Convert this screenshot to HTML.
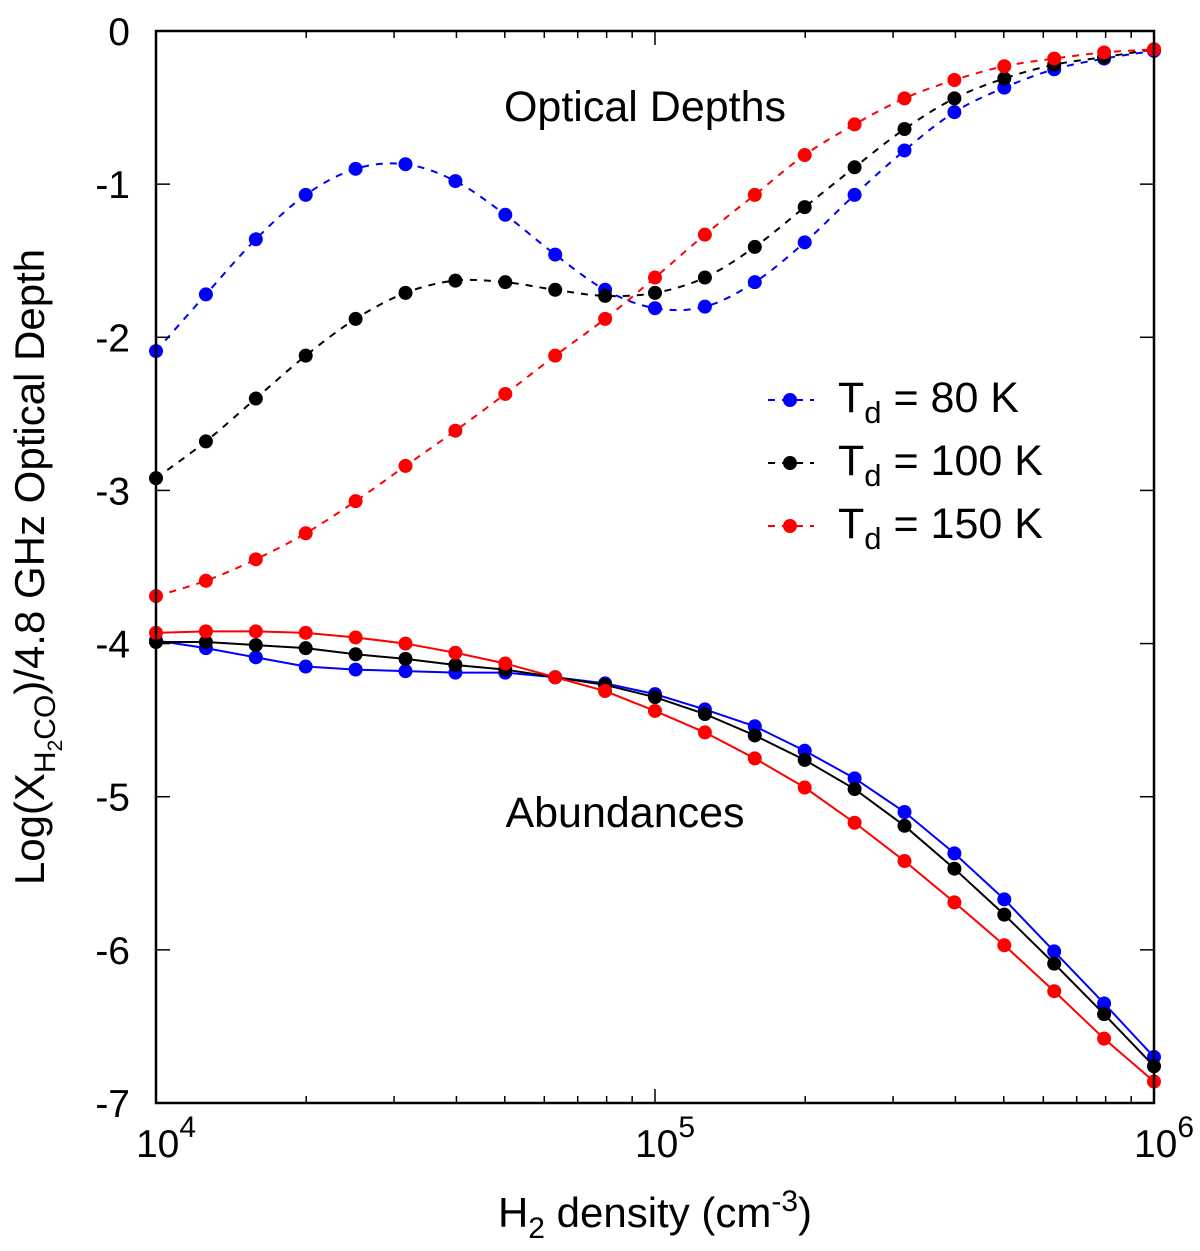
<!DOCTYPE html>
<html><head><meta charset="utf-8"><style>
html,body{margin:0;padding:0;background:#fff;}
svg{display:block;font-family:"Liberation Sans",sans-serif;}
</style></head><body>
<svg id="chart" width="1200" height="1251" viewBox="0 0 1200 1251" xmlns="http://www.w3.org/2000/svg">
<g id="marks"></g>
<rect x="156" y="31" width="998" height="1072" fill="none" stroke="#000" stroke-width="2.5"/>
<g id="ticks" stroke="#000" stroke-width="1.5"></g>
<g id="labels" font-size="39" fill="#000"></g>
<text x="645" y="121" font-size="43" text-anchor="middle">Optical Depths</text>
<text x="625" y="827" font-size="43" text-anchor="middle">Abundances</text>
<text x="655" y="1227" font-size="42" text-anchor="middle">H<tspan font-size="30" dy="11">2</tspan><tspan dy="-11"> density (cm</tspan><tspan font-size="30" dy="-16">-3</tspan><tspan dy="16">)</tspan></text>
<text transform="translate(44,567) rotate(-90)" font-size="42" text-anchor="middle">Log(X<tspan font-size="30" dy="11">H</tspan><tspan font-size="21" dy="7">2</tspan><tspan font-size="30" dy="-7">CO</tspan><tspan dy="-11">)/4.8 GHz Optical Depth</tspan></text>
<g id="legend" font-size="43"></g>
</svg>
<script>
const logN = [4,4.1,4.2,4.3,4.4,4.5,4.6,4.7,4.8,4.9,5,5.1,5.2,5.3,5.4,5.5,5.6,5.7,5.8,5.9,6];
const tau80 = [-2.09,-1.72,-1.36,-1.07,-0.90,-0.87,-0.98,-1.20,-1.46,-1.69,-1.81,-1.80,-1.64,-1.38,-1.07,-0.78,-0.53,-0.37,-0.25,-0.18,-0.13];
const tau100 = [-2.92,-2.68,-2.40,-2.12,-1.88,-1.71,-1.63,-1.64,-1.69,-1.73,-1.71,-1.61,-1.41,-1.15,-0.89,-0.64,-0.44,-0.31,-0.22,-0.17,-0.12];
const tau150 = [-3.69,-3.59,-3.45,-3.28,-3.07,-2.84,-2.61,-2.37,-2.12,-1.88,-1.61,-1.33,-1.07,-0.81,-0.61,-0.44,-0.32,-0.23,-0.18,-0.14,-0.12];
const abun80 = [-3.98,-4.03,-4.09,-4.15,-4.17,-4.18,-4.19,-4.19,-4.22,-4.26,-4.33,-4.43,-4.54,-4.70,-4.88,-5.10,-5.37,-5.67,-6.01,-6.35,-6.70];
const abun100 = [-3.99,-3.99,-4.01,-4.03,-4.07,-4.10,-4.14,-4.17,-4.22,-4.27,-4.35,-4.46,-4.60,-4.76,-4.95,-5.19,-5.47,-5.77,-6.09,-6.42,-6.76];
const abun150 = [-3.93,-3.92,-3.92,-3.93,-3.96,-4.00,-4.06,-4.13,-4.22,-4.31,-4.44,-4.58,-4.75,-4.94,-5.17,-5.42,-5.69,-5.97,-6.27,-6.58,-6.86];
const yTicks = [0,-1,-2,-3,-4,-5,-6,-7];
const xTickExps = [4,5,6];
const legendLabels = ["80 K","100 K","150 K"];

const NS="http://www.w3.org/2000/svg";
const X0=156,X1=1154,Y0=31,Y1=1103;
function xs(l){return X0+(l-4)/2*(X1-X0);}
function ys(v){return Y0+(0-v)/7*(Y1-Y0);}
function mk(t,a,p){const e=document.createElementNS(NS,t);for(const k in a)e.setAttribute(k,a[k]);p.appendChild(e);return e;}
const marks=document.getElementById('marks');
function smoothPath(xsA,ysA){
  let d="M"+xsA[0]+","+ysA[0];
  for(let i=0;i<xsA.length-1;i++){
    const p0x=xsA[Math.max(i-1,0)],p0y=ysA[Math.max(i-1,0)];
    const p1x=xsA[i],p1y=ysA[i],p2x=xsA[i+1],p2y=ysA[i+1];
    const p3x=xsA[Math.min(i+2,xsA.length-1)],p3y=ysA[Math.min(i+2,xsA.length-1)];
    d+=" C"+(p1x+(p2x-p0x)/6)+","+(p1y+(p2y-p0y)/6)+" "+(p2x-(p3x-p1x)/6)+","+(p2y-(p3y-p1y)/6)+" "+p2x+","+p2y;
  }
  return d;
}
function series(vals,color,dashed,name){
  const g=mk('g',{},marks);
  
  
  const px=logN.map(xs),py=vals.map(ys);
  const p=mk('path',{d:dashed?smoothPath(px,py):"M"+px.map((x,i)=>x+","+py[i]).join(" L"),fill:"none",stroke:color,"stroke-width":2,"stroke-dasharray":dashed?"7,7":"none"},g);
  
  
  px.forEach((x,i)=>{
    const c=mk('circle',{cx:x,cy:py[i],r:7,fill:color},g);
    
    
  });
}
series(tau80,"#0000ff",true,"tau-80k");
series(tau100,"#000",true,"tau-100k");
series(tau150,"#ff0000",true,"tau-150k");
series(abun80,"#0000ff",false,"abundance-80k");
series(abun100,"#000",false,"abundance-100k");
series(abun150,"#ff0000",false,"abundance-150k");

const ticks=document.getElementById('ticks'),labels=document.getElementById('labels');
yTicks.forEach(v=>{
  const y=ys(v);
  const t1=mk('line',{x1:X0,x2:X0+14,y1:y,y2:y},ticks);
  
  
  const t2=mk('line',{x1:X1,x2:X1-14,y1:y,y2:y},ticks);
  
  
  const t=mk('text',{x:130,y:y+14,"text-anchor":"end"},labels);
  t.textContent=String(v);
  
  
});
for(let d=4;d<6;d++){
  for(let m=1;m<10;m++){
    const x=xs(d+Math.log10(m));
    const len=m===1?14:7;
    const a=mk('line',{x1:x,x2:x,y1:Y1,y2:Y1-len},ticks);
    
    
    const b=mk('line',{x1:x,x2:x,y1:Y0,y2:Y0+len},ticks);
    
    
  }
}
xTickExps.forEach(e=>{
  const t=mk('text',{x:xs(e)+10,y:1157,"text-anchor":"middle"},labels);
  
  
  t.textContent="10";
  const s=mk('tspan',{"font-size":30,dy:-20},t);
  s.textContent=String(e);
});
const legend=document.getElementById('legend');
const lcol=["#0000ff","#000","#ff0000"];
legendLabels.forEach((lab,i)=>{
  const y=400+i*63;
  const g=mk('g',{},legend);
  
  
  mk('line',{x1:768,x2:814,y1:y,y2:y,stroke:lcol[i],"stroke-width":2,"stroke-dasharray":"7,7"},g);
  mk('circle',{cx:790,cy:y,r:7,fill:lcol[i]},g);
  const t=mk('text',{x:838,y:y+12},g);
  t.textContent="T";
  const s=mk('tspan',{"font-size":31,dy:11},t);s.textContent="d";
  const r=mk('tspan',{dy:-11},t);r.textContent=" = "+lab;
});
</script>
</body></html>
